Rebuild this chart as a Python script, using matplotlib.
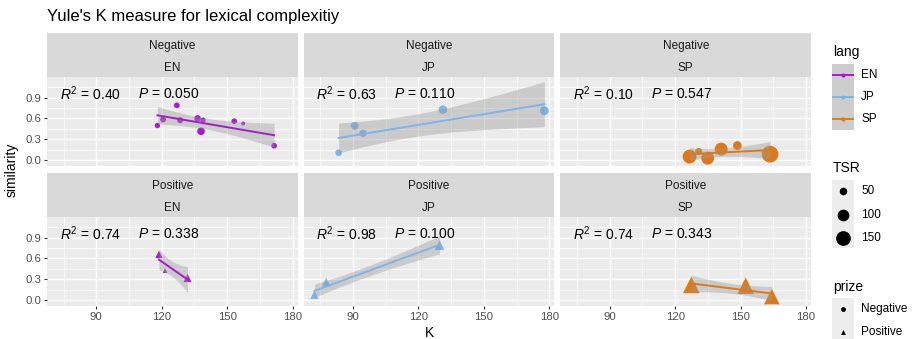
import numpy as np
import matplotlib.pyplot as plt
from matplotlib.lines import Line2D
from matplotlib.patches import Rectangle

plt.rcParams['font.family'] = ['Liberation Sans', 'DejaVu Sans']
plt.rcParams['mathtext.fontset'] = 'custom'
plt.rcParams['mathtext.rm'] = 'Liberation Sans'
plt.rcParams['mathtext.it'] = 'Liberation Sans:italic'

# ---- data ----
langs = ['EN', 'JP', 'SP']
prizes = ['Negative', 'Positive']
lang_colors = ['#A51DC9', '#80B3E6', '#DB7A1C']

neg_en_k = [118.0, 120.6, 126.9, 128.4, 136.4, 138.9, 138.0, 153.2, 157.3, 171.5]
neg_en_sim = [0.498, 0.585, 0.788, 0.575, 0.600, 0.575, 0.415, 0.560, 0.527, 0.208]
neg_en_tsr = [33, 37, 35, 37, 42, 33, 51, 35, 25, 35]

neg_jp_k = [83.4, 90.8, 94.6, 131.2, 177.7]
neg_jp_sim = [0.106, 0.494, 0.387, 0.726, 0.711]
neg_jp_tsr = [42, 53, 48, 60, 62]

neg_sp_k = [126.6, 130.8, 134.9, 141.1, 148.5, 163.5]
neg_sp_sim = [0.052, 0.125, 0.029, 0.160, 0.210, 0.087]
neg_sp_tsr = [135, 45, 118, 118, 62, 190]

pos_en_k = [118.7, 121.5, 131.8]
pos_en_sim = [0.658, 0.425, 0.319]
pos_en_tsr = [48, 29, 55]

pos_jp_k = [72.3, 77.7, 129.7]
pos_jp_sim = [0.077, 0.260, 0.790]
pos_jp_tsr = [58, 62, 72]

pos_sp_k = [127.4, 152.3, 164.3]
pos_sp_sim = [0.220, 0.208, 0.053]
pos_sp_tsr = [188, 185, 167]

r2_labels = ['0.40', '0.63', '0.10', '0.74', '0.98', '0.74']
p_labels = ['0.050', '0.110', '0.547', '0.338', '0.100', '0.343']
band_z = [1.96, 1.96, 1.96, 1.5, 1.5, 1.5]

tsr_breaks = [50, 100, 150]

panels = [
    (neg_en_k, neg_en_sim, neg_en_tsr),
    (neg_jp_k, neg_jp_sim, neg_jp_tsr),
    (neg_sp_k, neg_sp_sim, neg_sp_tsr),
    (pos_en_k, pos_en_sim, pos_en_tsr),
    (pos_jp_k, pos_jp_sim, pos_jp_tsr),
    (pos_sp_k, pos_sp_sim, pos_sp_tsr),
]

W, H = 913, 339


def box(x0, y0, x1, y1):
    return [x0 / W, 1 - y1 / H, (x1 - x0) / W, (y1 - y0) / H]


def marker_s(t):
    # point diameter in px grows with sqrt of TSR, converted to pt^2
    d = np.sqrt(1.51 * (np.asarray(t, float) - 18)) + 0.6
    return (0.72 * d) ** 2


fig = plt.figure(figsize=(W / 100, H / 100), dpi=100)

pw, gap = 250.7, 6
rows = [(33, 77, 166), (173, 217, 306)]

for i, (k, sim, tsr) in enumerate(panels):
    r, c = divmod(i, 3)
    x0 = 47 + c * (pw + gap)
    st, top, bot = rows[r]
    col = lang_colors[c]
    marker = 'o' if r == 0 else '^'

    # strip
    sax = fig.add_axes(box(x0, st, x0 + pw, top))
    sax.set_facecolor('#D9D9D9')
    sax.set_xticks([]); sax.set_yticks([])
    for sp in sax.spines.values():
        sp.set_visible(False)
    sax.text(0.5, 0.71, prizes[r], ha='center', va='center', fontsize=8.5, color='#1A1A1A')
    sax.text(0.5, 0.21, langs[c], ha='center', va='center', fontsize=8.5, color='#1A1A1A')

    ax = fig.add_axes(box(x0, top, x0 + pw, bot))
    ax.set_facecolor('#EBEBEB')
    for sp in ax.spines.values():
        sp.set_visible(False)
    ax.set_xlim(67.4, 182.3)
    ax.set_ylim(-0.083, 1.195)
    ax.set_xticks([90, 120, 150, 180])
    ax.set_xticks([75, 105, 135, 165], minor=True)
    ax.set_yticks([0, 0.3, 0.6, 0.9])
    ax.set_yticks([0.15, 0.45, 0.75, 1.05], minor=True)
    ax.set_yticklabels(['0.0', '0.3', '0.6', '0.9'])
    ax.set_axisbelow(True)
    ax.grid(which='major', color='white', lw=1.0)
    ax.grid(which='minor', color='white', lw=0.5)
    ax.tick_params(which='major', length=2.5, width=0.8, color='#333333',
                   labelsize=8.2, labelcolor='#4D4D4D', pad=1.5)
    ax.tick_params(which='minor', length=0)
    ax.tick_params(axis='x', labelbottom=(r == 1), bottom=(r == 1))
    ax.tick_params(axis='y', labelleft=(c == 0), left=(c == 0))

    # points
    ax.scatter(k, sim, s=marker_s(tsr), c=col, marker=marker, linewidths=0, zorder=2)

    # linear fit with band
    x = np.asarray(k, float)
    y = np.asarray(sim, float)
    n = len(x)
    b, a = np.polyfit(x, y, 1)
    resid = y - (a + b * x)
    s = np.sqrt(np.sum(resid ** 2) / (n - 2))
    sxx = np.sum((x - x.mean()) ** 2)
    xs = np.linspace(x.min(), x.max(), 80)
    ys = a + b * xs
    se = s * np.sqrt(1 / n + (xs - x.mean()) ** 2 / sxx)
    ax.fill_between(xs, ys - band_z[i] * se, ys + band_z[i] * se,
                    color='#999999', alpha=0.4, lw=0, zorder=3)
    ax.plot(xs, ys, color=col, lw=1.4, zorder=4)

    # stats label
    ax.text(0.05, 0.81, r'$R^2$ = ' + r2_labels[i], transform=ax.transAxes,
            fontsize=10, va='center', ha='left', color='black')
    ax.text(0.362, 0.81, r'$P$ = ' + p_labels[i], transform=ax.transAxes,
            fontsize=10, va='center', ha='left', color='black')

# titles
fig.text(47 / W, 1 - 17 / H, "Yule's K measure for lexical complexitiy",
         fontsize=12, va='center', ha='left', color='black')
fig.text(429 / W, 1 - 333 / H, 'K', fontsize=10, ha='center', va='center')
fig.text(12 / W, 1 - 170 / H, 'similarity', fontsize=10, ha='center', va='center',
         rotation=90)

# legends drawn on an overlay in pixel units
lax = fig.add_axes([0, 0, 1, 1])
lax.set_xlim(0, W)
lax.set_ylim(H, 0)
lax.axis('off')

kx0, kx1, lx = 832, 854, 861
lax.text(833, 52, 'lang', fontsize=10, va='center', ha='left')
lax.add_patch(Rectangle((kx0, 64), kx1 - kx0, 66, color='#CDCDCD', lw=0))
for j, lg in enumerate(langs):
    yy = 75 + 22 * j
    lax.add_line(Line2D([kx0 + 1, kx1 - 1], [yy, yy], color=lang_colors[j], lw=1.4))
    lax.plot([(kx0 + kx1) / 2], [yy], 'o', color=lang_colors[j], ms=3, mew=0)
    lax.text(lx, yy, lg, fontsize=8.5, va='center', ha='left')

lax.text(833, 168, 'TSR', fontsize=10, va='center', ha='left')
lax.add_patch(Rectangle((kx0, 180), kx1 - kx0, 68, color='#EDEDED', lw=0))
for j, t in enumerate(tsr_breaks):
    yy = [191, 215, 238][j]
    lax.scatter([(kx0 + kx1) / 2], [yy], s=marker_s(t), c='black', lw=0)
    lax.text(lx, yy, str(t), fontsize=8.5, va='center', ha='left')

lax.text(833, 287, 'prize', fontsize=10, va='center', ha='left')
lax.add_patch(Rectangle((kx0, 298), kx1 - kx0, 45, color='#EDEDED', lw=0))
for j, pz in enumerate(prizes):
    yy = [309, 332][j]
    lax.plot([(kx0 + kx1) / 2], [yy], 'o' if j == 0 else '^', color='black', ms=3.5, mew=0)
    lax.text(lx, yy, pz, fontsize=8.5, va='center', ha='left')

fig.savefig('out.png', dpi=100)
